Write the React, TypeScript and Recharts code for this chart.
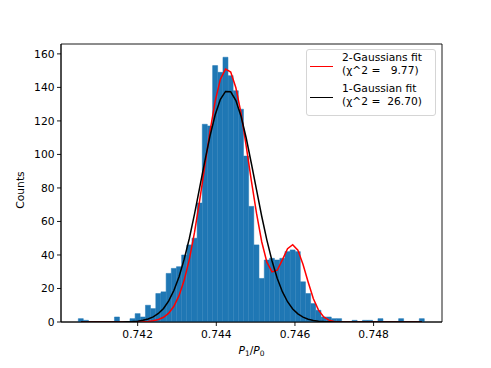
import { ComposedChart, Bar, Line, XAxis, YAxis, Legend, ReferenceArea } from 'recharts';

// histogram bins (P1/P0), regular width
const BIN_START = 0.74049;
const BIN_WIDTH = 0.0001314;

const counts = [
  2, 1, 0, 0, 0, 0, 0, 3, 0, 0,
  2, 5, 3, 10, 8, 17, 18, 29, 32, 33,
  40, 46, 50, 71, 118, 117, 153, 149, 158, 147,
  138, 127, 99, 69, 46, 26, 37, 38, 37, 38,
  42, 43, 42, 24, 17, 11, 7, 3, 3, 2,
  2, 0, 0, 1, 0, 1, 1, 0, 2, 0,
  0, 0, 2, 0, 0, 0, 2,
];

const fit2Gauss = [
  0, 0, 0, 0, 0, 0, 0, 0, 0, 0,
  0.02, 0.06, 0.14, 0.33, 0.7, 1.46, 2.83, 5.3, 9.4, 15.7,
  25, 37.4, 53.6, 72.8, 93.3, 114, 131.8, 144.9, 150.9, 149.2,
  139.8, 124.6, 105, 84.2, 64.8, 47.9, 35.7, 29.9, 30.9, 37.1,
  43.7, 46.1, 42.9, 34.3, 23.7, 13.9, 7.1, 3, 1.1, 0.35,
  0.09, 0.02, 0, 0, 0, 0, 0, 0, 0, 0,
  0, 0, 0, 0, 0, 0, 0,
];

const fit1Gauss = [
  0, 0, 0, 0, 0, 0, 0, 0.03, 0.07, 0.14,
  0.27, 0.52, 0.99, 1.77, 3.04, 5.08, 8.1, 12.6, 18.8, 27,
  37.5, 50, 64.5, 80.3, 96.1, 111.1, 123.7, 132.9, 137.6, 137.4,
  132.1, 122.8, 109.8, 94.6, 78.8, 63.1, 48.9, 36.4, 26.1, 18.1,
  12.1, 7.8, 4.85, 2.88, 1.67, 0.93, 0.5, 0.26, 0.13, 0.06,
  0.03, 0, 0, 0, 0, 0, 0, 0, 0, 0,
  0, 0, 0, 0, 0, 0, 0,
];

const xTicks = [0.742, 0.744, 0.746, 0.748];
const yTicks = [0, 20, 40, 60, 80, 100, 120, 140, 160];

const legendItems = [
  { name: '2-Gaussians fit', chi: '(\u03c7^2 =   9.77)', color: '#ff0000' },
  { name: '1-Gaussian fit', chi: '(\u03c7^2 =  26.70)', color: '#000000' },
];

const X_DOMAIN = [0.74005, 0.74974];
const Y_DOMAIN = [0, 165.9];

const FONT = '"DejaVu Sans", sans-serif';
const FS = 10.7;

const data = counts.map((c, i) => ({
  x: BIN_START + BIN_WIDTH * (i + 0.5),
  count: c,
  fit2: fit2Gauss[i],
  fit1: fit1Gauss[i],
}));

const tickStyle = { fontFamily: FONT, fontSize: FS, fill: '#000' };

function XLabel({ viewBox }: any) {
  const cx = viewBox.x + viewBox.width / 2;
  return (
    <text x={cx} y={viewBox.y + 31.5} textAnchor="middle" fontFamily={FONT} fontSize={FS} fill="#000">
      <tspan fontStyle="italic">P</tspan>
      <tspan fontSize={7.5} dy={2.2}>1</tspan>
      <tspan dy={-2.2}>/</tspan>
      <tspan fontStyle="italic">P</tspan>
      <tspan fontSize={7.5} dy={2.2}>0</tspan>
    </text>
  );
}

function YLabel() {
  return (
    <text
      x={24}
      y={190}
      transform="rotate(-90 24 190)"
      textAnchor="middle"
      fontFamily={FONT}
      fontSize={FS}
      fill="#000"
    >
      Counts
    </text>
  );
}

function LegendBox() {
  return (
    <div
      style={{
        boxSizing: 'border-box',
        width: 130,
        border: '1px solid #d5d5d5',
        borderRadius: 3,
        background: 'rgba(255,255,255,0.8)',
        padding: '2px 0 6px 3px',
        fontFamily: FONT,
        fontSize: FS,
        lineHeight: '12.7px',
        color: '#000',
      }}
    >
      {legendItems.map((item, i) => (
        <div key={item.name} style={{ display: 'flex', alignItems: 'center', marginTop: i ? 6 : 0 }}>
          <div style={{ width: 23, height: 0, borderTop: `1.5px solid ${item.color}`, marginTop: 3, marginRight: 9 }} />
          <div style={{ whiteSpace: 'pre' }}>
            {item.name}
            {'\n'}
            {item.chi}
          </div>
        </div>
      ))}
    </div>
  );
}

export default function App() {
  return (
    <div style={{ position: 'absolute', left: 0, top: 0, width: 491, height: 368, background: '#fff' }}>
      <ComposedChart
        width={491}
        height={368}
        data={data}
        margin={{ top: 44, right: 49, bottom: 0, left: 0 }}
        barCategoryGap={0}
        barGap={0}
      >
        <XAxis
          dataKey="x"
          type="number"
          domain={X_DOMAIN}
          allowDataOverflow
          ticks={xTicks}
          tickFormatter={(v: number) => v.toFixed(3)}
          height={46}
          tick={tickStyle}
          tickSize={4}
          tickMargin={4}
          axisLine={{ stroke: '#000', strokeWidth: 0.9 }}
          tickLine={{ stroke: '#000', strokeWidth: 0.9 }}
          label={(props: any) => <XLabel {...props} />}
        />
        <YAxis
          type="number"
          domain={Y_DOMAIN}
          allowDataOverflow
          ticks={yTicks}
          width={61}
          tick={tickStyle}
          tickSize={4}
          tickMargin={2.5}
          axisLine={{ stroke: '#000', strokeWidth: 0.9 }}
          tickLine={{ stroke: '#000', strokeWidth: 0.9 }}
          label={() => <YLabel />}
        />
        <Legend
          layout="vertical"
          align="center"
          verticalAlign="middle"
          wrapperStyle={{ left: 306, top: 49, width: 130, height: 'auto' }}
          content={() => <LegendBox />}
        />
        <Bar dataKey="count" fill="#1f77b4" stroke="#1f77b4" strokeWidth={0.5} isAnimationActive={false} />
        <Line
          dataKey="fit2"
          type="linear"
          stroke="#ff0000"
          strokeWidth={1.5}
          dot={false}
          activeDot={false}
          isAnimationActive={false}
        />
        <Line
          dataKey="fit1"
          type="linear"
          stroke="#000000"
          strokeWidth={1.5}
          dot={false}
          activeDot={false}
          isAnimationActive={false}
        />
        <ReferenceArea
          x1={X_DOMAIN[0]}
          x2={X_DOMAIN[1]}
          y1={Y_DOMAIN[0]}
          y2={Y_DOMAIN[1]}
          fill="none"
          fillOpacity={0}
          stroke="#000"
          strokeWidth={0.9}
          ifOverflow="visible"
        />
      </ComposedChart>
    </div>
  );
}
